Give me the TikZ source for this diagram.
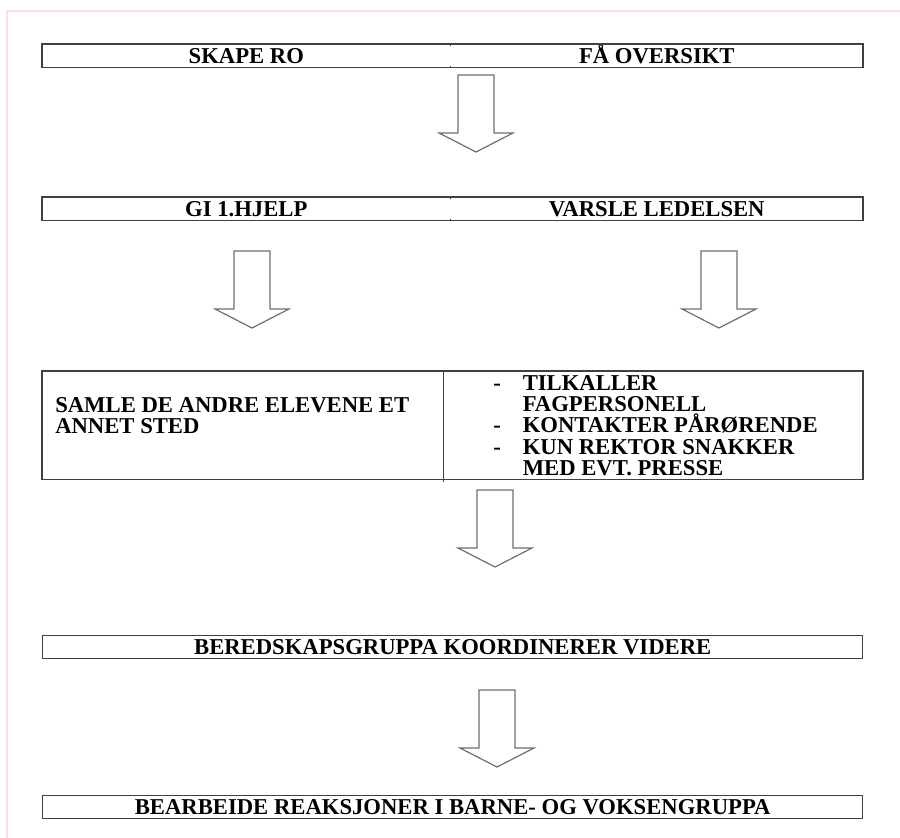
\documentclass[tikz,border=0pt]{standalone}
\usepackage{fontspec}
\setmainfont{Liberation Serif}
\usetikzlibrary{positioning}
\definecolor{framepink}{RGB}{252,224,230}
\definecolor{boxline}{RGB}{64,64,64}
\definecolor{arrowgray}{RGB}{110,110,110}

\begin{document}
\begin{tikzpicture}[
    x=0.75pt, y=-0.75pt,
    cell/.style={rectangle, inner sep=0pt, minimum height=17.25pt, text height=11.3pt, text depth=0pt, font=\bfseries\fontsize{17pt}{16pt}\selectfont},
    halfl/.style={cell, minimum width=306pt, anchor=north west},
    halfr/.style={cell, minimum width=309pt, anchor=north west},
    wide/.style={cell, minimum width=615pt, anchor=north west},
    frame/.style={draw=boxline, line width=1.1pt},
    tick/.style={draw=boxline, line width=1.1pt},
    listtext/.style={inner sep=0pt, anchor=north west, align=left, font=\bfseries\fontsize{17pt}{16pt}\selectfont},
    bigarrow/.pic={\draw[draw=arrowgray, line width=0.9pt, line join=miter] (-18,0) -- (18,0) -- (18,58) -- (37,58) -- (0,77) -- (-37,58) -- (-18,58) -- cycle;}
]
    \useasboundingbox (0,0) rectangle (900,838);
    \draw[framepink, line width=1.5pt] (7,838) -- (7,11) -- (900,11);

    % first row
    \node[halfl] (skape) at (42,44) {SKAPE RO};
    \node[halfr, right=0pt of skape] (oversikt) {FÅ OVERSIKT};
    \draw[frame] (skape.north west) rectangle (oversikt.south east);
    \draw[tick] (skape.north east) -- ++(0,2);
    \draw[tick] (skape.south east) -- ++(0,-2);

    \pic at (476,75) {bigarrow};

    % second row
    \node[halfl] (hjelp) at (42,197) {GI 1.HJELP};
    \node[halfr, right=0pt of hjelp] (varsle) {VARSLE LEDELSEN};
    \draw[frame] (hjelp.north west) rectangle (varsle.south east);
    \draw[tick] (hjelp.north east) -- ++(0,2);
    \draw[tick] (hjelp.south east) -- ++(0,-2);

    \pic at (252,251) {bigarrow};
    \pic at (719,251) {bigarrow};

    % third row
    \node[cell, minimum width=300.75pt, minimum height=81pt, anchor=north west] (samle) at (42,371) {};
    \node[cell, minimum width=314.25pt, minimum height=81pt, right=0pt of samle] (tiltak) {};
    \draw[frame] (samle.north west) rectangle (tiltak.south east);
    \draw[frame] (samle.north east) -- ([yshift=-1.5pt]samle.south east);
    \node[listtext] (samletxt) at (55,397) {SAMLE DE ANDRE ELEVENE ET\\ANNET STED};
    \node[listtext] (tiltaktxt) at (493,375) {%
        \begin{tabular}{@{}l@{\hspace{16.5pt}}l@{}}
        - & TILKALLER\\
          & FAGPERSONELL\\
        - & \smash{KONTAKTER PÅRØRENDE}\\
        - & KUN REKTOR SNAKKER\\
          & MED EVT. PRESSE
        \end{tabular}};

    \pic at (495,490) {bigarrow};

    % last rows
    \node[wide, frame] (bered) at (42,635) {BEREDSKAPSGRUPPA KOORDINERER VIDERE};

    \pic at (497,690) {bigarrow};

    \node[wide, frame] (bearbeide) at (42,795) {BEARBEIDE REAKSJONER I BARNE- OG VOKSENGRUPPA};
\end{tikzpicture}
\end{document}
